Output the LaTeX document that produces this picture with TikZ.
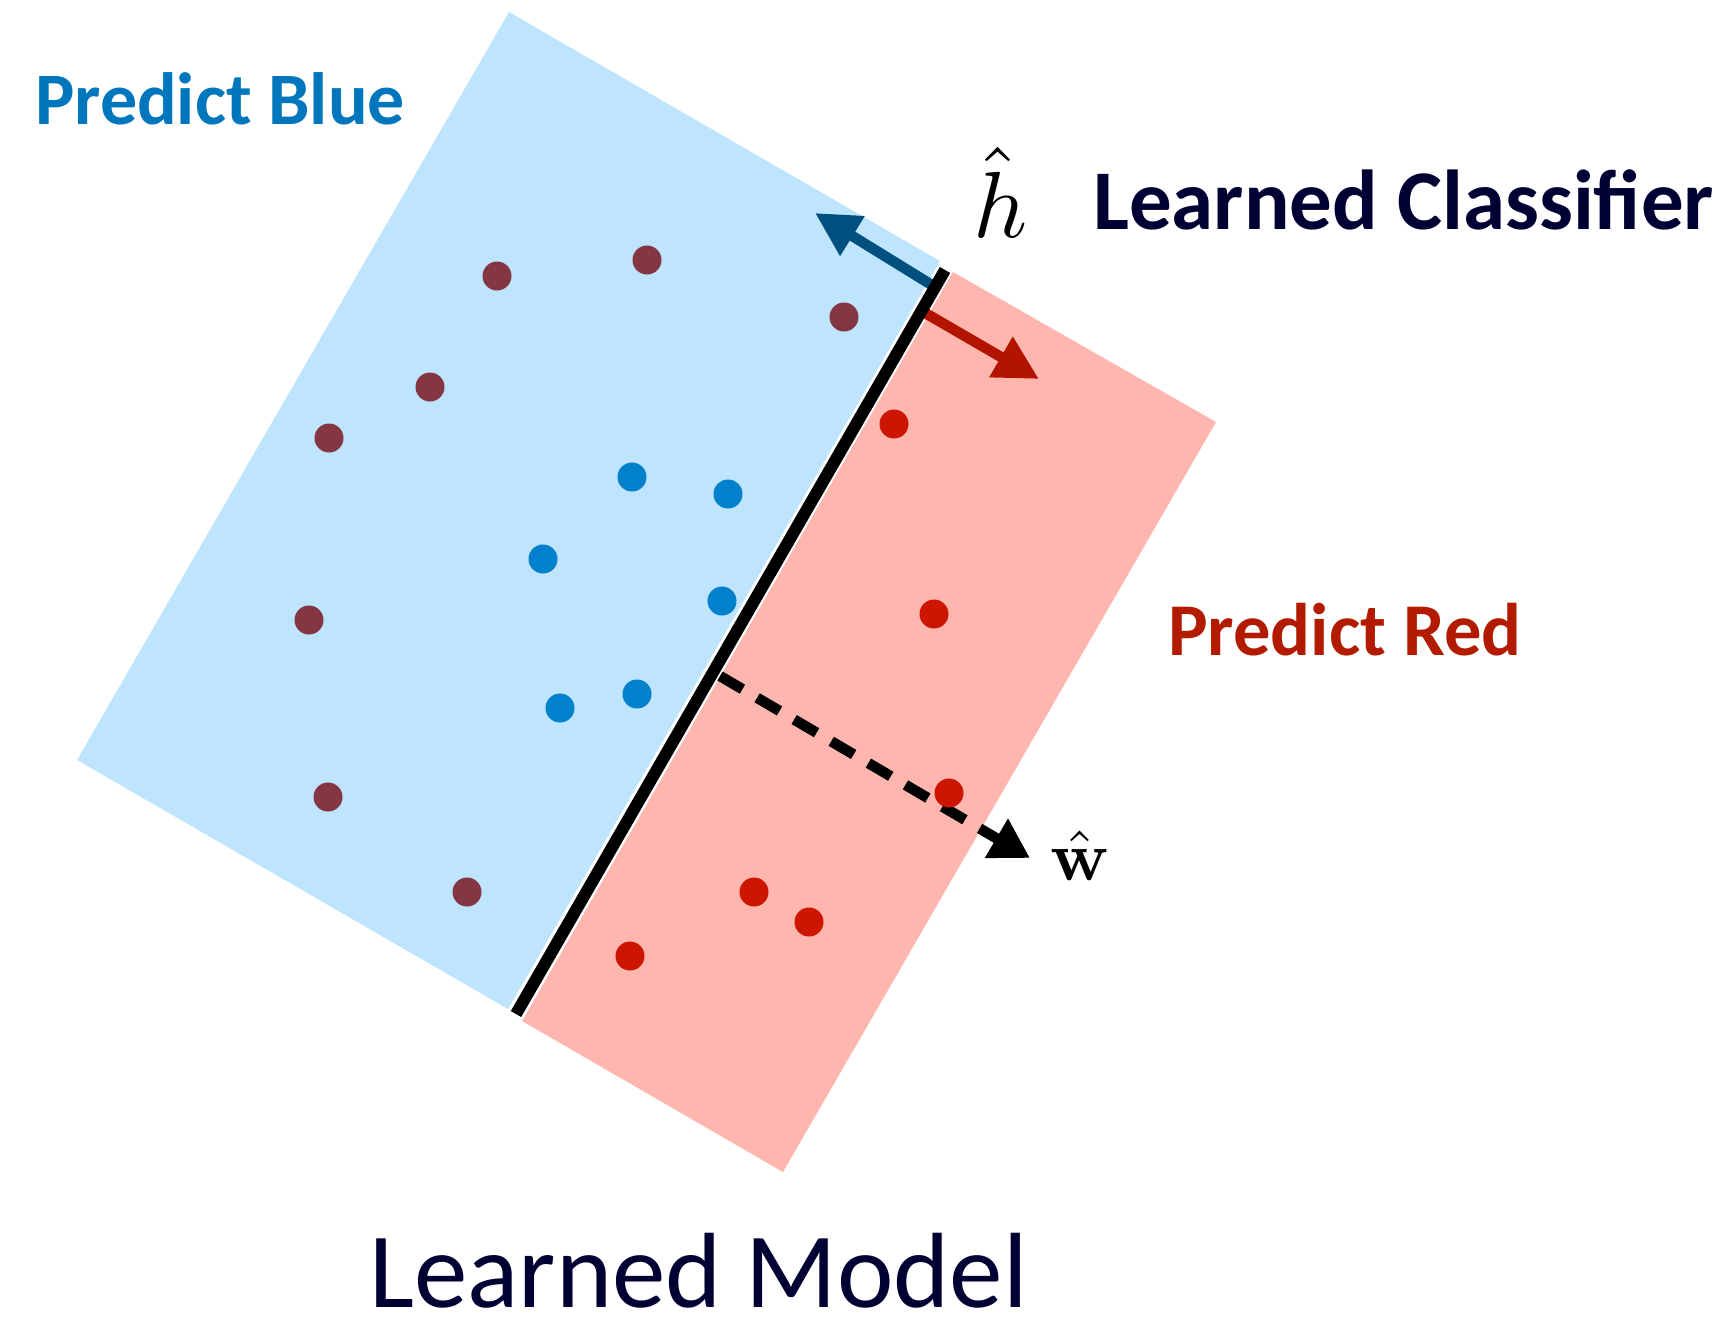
\documentclass[tikz,border=0pt]{standalone}
\usepackage[no-math]{fontspec}
\setmainfont{Carlito}
\usetikzlibrary{arrows.meta}
\definecolor{regblue}{HTML}{BEE5FD}
\definecolor{regred}{HTML}{FEB6AE}
\definecolor{dotmaroon}{HTML}{843642}
\definecolor{dotblue}{HTML}{0180CC}
\definecolor{dotred}{HTML}{CC1600}
\definecolor{txtblue}{HTML}{0076BD}
\definecolor{txtred}{HTML}{B31B00}
\definecolor{navyink}{HTML}{000033}
\definecolor{arrblue}{HTML}{00507F}
\definecolor{arrred}{HTML}{B31400}
\begin{document}
\begin{tikzpicture}[x=1pt,y=-1pt,
  pt/.style={circle,inner sep=0pt,minimum size=29pt},
  ptm/.style={pt,fill=dotmaroon},
  ptb/.style={pt,fill=dotblue},
  ptr/.style={pt,fill=dotred},
  lbl/.style={anchor=base west,inner sep=0pt},
  vecarrow/.style={line width=10.5pt,-{Triangle[length=44pt,width=44pt]}}]
\useasboundingbox (0,0) rectangle (1731,1320);
% regions
\fill[regblue] (509,12) -- (940,261) -- (508,1009) -- (77,760) -- cycle;
\fill[regred] (953,272) -- (1216,422) -- (783,1172) -- (522,1021) -- cycle;
% arrow end points
\coordinate (ba) at (935,287);
\coordinate (bt) at (815,213);
\coordinate (ra) at (920,310);
\coordinate (rt) at (1039,379);
\coordinate (wa) at (720,676);
\coordinate (wt) at (1030,858);
\draw[vecarrow,arrblue] (ba) -- (bt);
\draw[vecarrow,arrred] (ra) -- (rt);
% classifier line
\coordinate (lt) at (945,270);
\coordinate (lb) at (516,1014);
\draw[line width=12pt] (lt) -- (lb);
% dashed normal
\draw[line width=10.5pt,dash pattern=on 26pt off 17pt,-{Triangle[length=39pt,width=43pt]}] (wa) -- (wt);
% points
\node[ptm] (m1) at (497,276) {};
\node[ptm] (m2) at (647,260) {};
\node[ptm] (m3) at (844,317) {};
\node[ptm] (m4) at (430,387) {};
\node[ptm] (m5) at (329,438) {};
\node[ptm] (m6) at (309,620) {};
\node[ptm] (m7) at (328,797) {};
\node[ptm] (m8) at (467,892) {};
\node[ptb] (b1) at (632,477) {};
\node[ptb] (b2) at (728,494) {};
\node[ptb] (b3) at (543,559) {};
\node[ptb] (b4) at (722,601) {};
\node[ptb] (b5) at (637,694) {};
\node[ptb] (b6) at (560,708) {};
\node[ptr] (r1) at (894,424) {};
\node[ptr] (r2) at (934,614) {};
\node[ptr] (r3) at (949,793) {};
\node[ptr] (r4) at (754,892) {};
\node[ptr] (r5) at (809,922) {};
\node[ptr] (r6) at (630,956) {};
% labels
\node[lbl,text=txtblue,font=\fontsize{74}{88}\selectfont\bfseries] (pblue) at (35,124) {Predict Blue};
\node[lbl,text=txtred,font=\fontsize{74.5}{88}\selectfont\bfseries] (pred) at (1168,655) {Predict Red};
\node[lbl,text=navyink,font=\fontsize{85}{100}\selectfont\bfseries] (lclf) at (1093,229) {Learned Classifier};
\node[lbl,text=navyink,text depth=0pt,font=\fontsize{107}{120}\selectfont] (lmod) at (369,1307) {Learned Model};
\node[lbl,scale=9.4] (hhat) at (972,237) {$\hat{h}$};
\node[lbl,scale=7] (what) at (1049,880) {$\hat{\mathbf{w}}$};
\end{tikzpicture}
\end{document}
